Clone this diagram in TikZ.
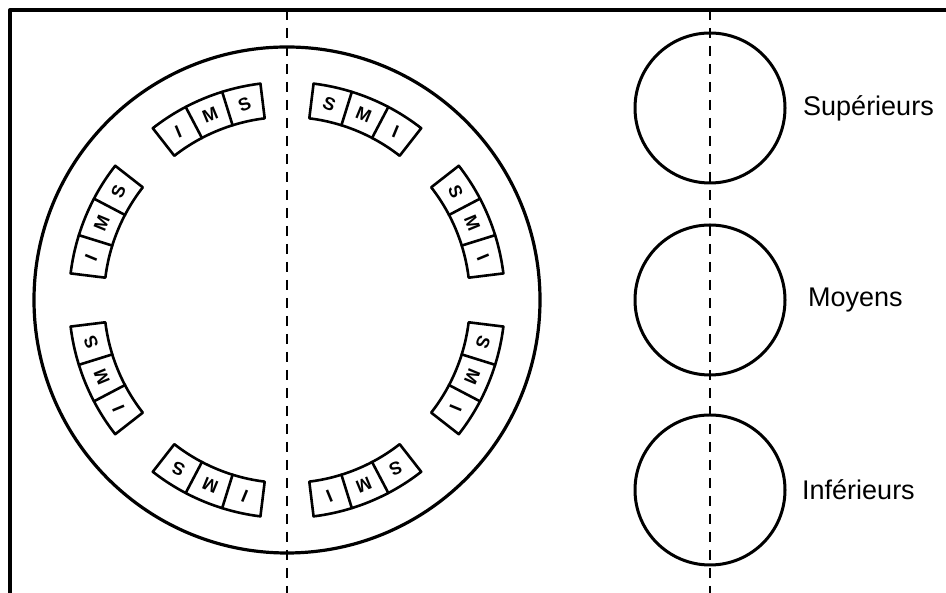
\documentclass[tikz,border=0pt]{standalone}
\usepackage{fontspec}
\setmainfont{Liberation Sans}
\usetikzlibrary{calc}
\begin{document}
\begin{tikzpicture}[x=1pt,y=1pt,line cap=round,line join=round,
  frameline/.style={line width=3.2pt},
  dashline/.style={line width=2.6pt,dash pattern=on 10pt off 8pt,line cap=butt},
  cellbox/.style={line width=2.6pt},
  letter/.style={font=\fontsize{18}{18}\selectfont\bfseries,inner sep=0pt},
  sidecircle/.style={circle,draw,line width=3pt,minimum size=150pt,inner sep=0pt},
  label/.style={font=\fontsize{27}{27}\selectfont,anchor=west,inner sep=0pt}]
\useasboundingbox (0,0) rectangle (946,593);
% frame
\draw[frameline] (10,0) -- (10,583) -- (946,583);
% big circle
\coordinate (O) at (287,293);
\draw[line width=3.2pt] (O) circle[radius=253];
% dashed axes
\coordinate (d1t) at (287,583);
\coordinate (d1b) at (287,0);
\coordinate (d2t) at (710,583);
\coordinate (d2b) at (710,0);
\draw[dashline] (d1t) -- (d1b);
% groups of cells
\foreach \t/\a/\b/\c [count=\i] in {112.5/I/M/S,157.5/I/M/S,202.5/I/M/S,247.5/I/M/S,67.5/S/M/I,22.5/S/M/I,-22.5/S/M/I,-67.5/S/M/I}{
  \draw[cellbox] ([shift={(O)}]{\t+15.5}:183) arc[start angle={\t+15.5},end angle={\t-15.5},radius=183]
     -- ([shift={(O)}]{\t-15.5}:218) arc[start angle={\t-15.5},end angle={\t+15.5},radius=218] -- cycle;
  \draw[cellbox] ([shift={(O)}]{\t+5.2}:183) -- ([shift={(O)}]{\t+5.2}:218);
  \draw[cellbox] ([shift={(O)}]{\t-5.2}:183) -- ([shift={(O)}]{\t-5.2}:218);
  \node[letter,rotate={\t-90}] (g\i a) at ([shift={(O)}]{\t+10.3}:200.5) {\a};
  \node[letter,rotate={\t-90}] (g\i b) at ([shift={(O)}]{\t}:200.5) {\b};
  \node[letter,rotate={\t-90}] (g\i c) at ([shift={(O)}]{\t-10.3}:200.5) {\c};
}
% side circles
\node[sidecircle] (sup) at (710,485) {};
\node[sidecircle] (moy) at (710,293) {};
\node[sidecircle] (inf) at (710,103) {};
\draw[dashline] (d2t) -- (d2b);
% labels
\node[label] (lsup) at (803,485) {Supérieurs};
\node[label] (lmoy) at (808,293) {Moyens};
\node[label] (linf) at (802,103) {Inférieurs};
\end{tikzpicture}
\end{document}
